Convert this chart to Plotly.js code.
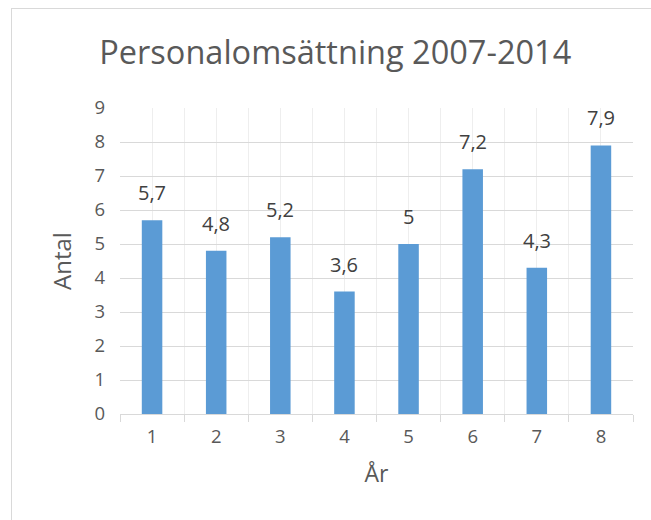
<!DOCTYPE html>
<html>
<head>
<meta charset="utf-8">
<script src="https://cdn.plot.ly/plotly-3.0.1.min.js"></script>
<style>
html,body{margin:0;padding:0;background:#fff;}
#chart{position:absolute;left:0;top:0;width:651px;height:520px;}
#frame{position:absolute;left:11px;top:8px;width:660px;height:540px;border-top:1px solid #D9D9D9;border-left:1px solid #D9D9D9;pointer-events:none;}
</style>
</head>
<body>
<div id="chart"></div>
<div id="frame"></div>
<script>
const years = [1, 2, 3, 4, 5, 6, 7, 8];
const values = [5.7, 4.8, 5.2, 3.6, 5, 7.2, 4.3, 7.9];
const yTicks = [0, 1, 2, 3, 4, 5, 6, 7, 8, 9];
const boundaries = [0.5, 1.5, 2.5, 3.5, 4.5, 5.5, 6.5, 7.5, 8.5];

const labels = values.map(v => String(v).replace('.', ','));
const FONT = '"Open Sans", "Noto Sans", sans-serif';

const trace = {
  type: 'bar',
  x: years,
  y: values,
  width: 0.32,
  marker: {color: '#5B9BD5'},
  hoverinfo: 'x+y'
};

const annotations = years.map((x, i) => ({
  x: x, y: values[i], xref: 'x', yref: 'y',
  text: labels[i], showarrow: false,
  yanchor: 'bottom', yshift: 12,
  font: {family: FONT, size: 20, color: '#404040'}
}));

const layout = {
  width: 651, height: 520,
  margin: {l: 120, r: 18, t: 108, b: 106},
  paper_bgcolor: '#fff', plot_bgcolor: '#fff',
  showlegend: false,
  title: {text: 'Personalomsättning 2007-2014', x: 0.515, xanchor: 'center', y: 0.898, yanchor: 'middle',
    font: {family: FONT, size: 32.5, color: '#595959'}},
  xaxis: {
    range: [0.5, 8.5], tickvals: years, ticktext: years.map(String),
    showgrid: true, gridcolor: '#EEEEEE', gridwidth: 1,
    ticks: '', showline: true, linecolor: '#D9D9D9', linewidth: 1,
    zeroline: false, ticklabelstandoff: 6,
    tickfont: {family: FONT, size: 18.5, color: '#595959'},
    minor: {tickvals: boundaries, showgrid: true, gridcolor: '#EEEEEE', ticks: 'outside', ticklen: 7, tickcolor: '#D9D9D9', tickwidth: 1},
    title: {text: 'År', standoff: 18, font: {family: FONT, size: 23, color: '#595959'}}
  },
  yaxis: {
    range: [0, 9], tickvals: yTicks, showgrid: true, gridcolor: '#D9D9D9', gridwidth: 1,
    zeroline: false, showline: false, ticks: '', ticklabelstandoff: 14,
    tickfont: {family: FONT, size: 18.5, color: '#595959'},
    title: {text: 'Antal', standoff: 16, font: {family: FONT, size: 24, color: '#595959'}}
  },
  annotations: annotations,
  bargap: 0.68
};

Plotly.newPlot('chart', [trace], layout, {displayModeBar: false, staticPlot: true});
</script>
</body>
</html>
